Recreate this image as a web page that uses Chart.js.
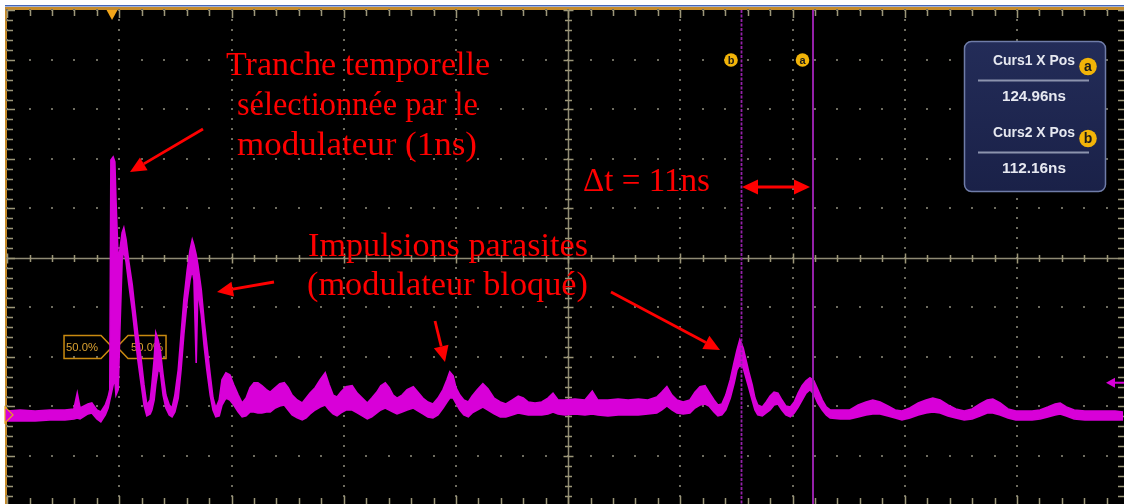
<!DOCTYPE html>
<html><head><meta charset="utf-8">
<script src="https://cdn.jsdelivr.net/npm/chart.js@4.4.1/dist/chart.umd.js"></script>
<style>html,body{margin:0;padding:0;background:#fff;overflow:hidden}canvas{display:block}</style>
</head><body>
<canvas id="c" width="1124" height="504"></canvas>
<script>
// ---- data (time in ns, amplitude in mV, 10 mV/div, 20 ns/div) ----
const timeNs = [
-18.7,-16.4,-13.7,-11.1,-8.4,-6.8,-6.2,-5.7,-4.3,-3.6,
-2.7,-2.0,-1.2,-0.7,-0.4,-0.2,0.2,0.5,0.7,1.1,
1.4,1.8,2.1,2.5,3.0,3.6,4.1,4.6,5.2,5.7,
6.2,6.8,7.1,7.5,7.8,8.2,8.6,9.1,9.6,10.2,
10.7,11.2,11.8,12.3,12.8,13.4,13.9,14.3,14.6,15.0,
15.3,15.9,16.4,16.9,17.5,18.0,18.5,19.1,19.6,20.3,
21.0,21.7,22.5,23.2,23.9,24.6,25.3,26.0,26.7,27.5,
28.2,29.1,29.9,30.7,31.4,32.1,33.0,33.9,34.6,35.3,
36.2,37.1,38.0,38.7,39.4,40.1,40.8,41.7,42.8,43.7,
44.6,45.5,46.3,47.2,47.9,48.7,49.4,50.1,50.8,51.7,
52.6,53.7,54.5,55.4,56.3,57.2,58.1,59.0,59.7,60.2,
60.8,61.3,62.0,62.7,63.5,64.2,65.1,66.1,67.0,68.1,
69.2,70.2,71.3,72.4,73.3,74.2,75.4,76.6,77.7,78.6,
79.5,80.7,82.5,84.3,85.6,86.6,88.4,90.2,92.0,93.8,
95.5,97.1,98.0,98.9,99.8,100.7,101.8,103.0,103.9,104.8,
105.7,106.4,107.3,108.0,108.7,109.4,110.2,110.9,111.4,111.9,
112.5,113.0,113.5,114.1,114.6,115.1,115.9,116.6,117.3,118.0,
118.7,119.4,120.1,120.9,121.6,122.3,123.0,123.7,124.4,125.1,
125.8,126.6,127.3,128.0,129.8,131.5,133.0,134.4,135.6,136.9,
138.3,139.6,140.8,142.2,143.7,145.1,146.3,147.6,149.0,150.4,
151.9,153.3,154.7,156.0,157.0,158.3,159.7,161.1,162.6,164.0,
165.4,166.8,168.1,169.0,170.1,171.5,173.4,175.2,177.0,178.8,180.2];
const traceHigh = [
0.8,1.0,0.8,1.0,1.0,1.2,4.4,1.4,2.2,2.4,
1.0,0.6,2.0,3.6,5.1,51.5,52.1,51.1,43.4,31.3,
33.3,36.8,37.8,35.4,30.9,26.3,21.2,16.2,11.1,6.1,
2.0,3.0,6.1,11.1,16.6,15.2,13.1,8.1,4.0,2.0,
1.4,4.0,9.1,16.2,23.2,29.3,33.3,35.4,34.3,32.3,
30.3,25.3,19.2,14.1,8.1,3.4,1.4,3.0,7.1,8.5,
8.1,6.1,4.0,2.4,3.4,5.5,6.5,6.5,5.9,5.1,
4.6,5.5,6.3,6.5,5.5,4.0,3.0,2.4,3.4,4.4,
5.5,7.1,8.5,6.1,4.0,3.6,4.6,5.7,5.9,4.4,
3.4,2.4,3.4,4.6,5.9,6.5,5.5,4.0,3.4,4.0,
5.1,5.7,4.6,3.4,2.6,2.2,3.4,5.1,7.1,8.7,
7.9,5.5,4.0,3.0,2.6,3.8,5.1,6.3,5.3,3.4,
2.6,2.2,3.0,3.8,3.4,2.6,2.4,2.6,3.4,4.4,
3.0,3.0,3.2,3.0,4.8,3.0,3.0,3.2,3.0,3.2,
3.0,3.6,4.6,5.7,4.0,3.0,2.6,3.0,4.6,5.7,
5.9,4.6,3.0,2.0,2.2,4.0,7.1,10.7,13.1,15.2,
13.5,11.1,8.7,6.1,3.4,2.0,1.6,2.6,3.8,4.6,
4.4,3.0,1.8,1.6,2.6,4.4,5.9,6.9,7.5,6.9,
5.1,3.0,1.6,1.0,1.0,1.0,2.0,2.6,3.0,2.6,
1.8,1.0,0.8,1.4,2.4,3.0,3.4,3.0,2.0,1.2,
0.8,1.2,2.2,3.0,3.2,2.4,1.2,0.8,0.8,0.8,
1.0,1.6,2.2,2.4,1.6,1.0,0.8,0.8,0.8,0.8,0.6];
const traceLow = [
-1.2,-1.2,-1.2,-1.0,-1.0,-0.8,-0.6,-0.8,0.2,0.4,
-0.8,-1.4,0,1.4,3.0,4.0,6.1,7.1,4.0,5.1,
17.2,31.3,33.3,30.9,26.3,21.2,16.2,11.1,6.1,2.0,
-0.2,0.2,1.0,3.0,6.1,9.1,8.7,4.0,1.4,0,
-0.4,0.6,3.4,9.1,16.2,23.2,27.3,29.3,27.3,10.5,
25.3,20.2,14.1,9.1,4.0,1.0,-0.4,-0.2,2.0,3.4,
3.0,2.0,0.6,-0.4,-0.2,0.6,0.6,0.4,0.4,0.6,
0.6,1.4,1.8,2.0,1.0,0,-0.6,-1.0,-0.6,0.2,
1.0,1.6,2.0,1.0,0.2,-0.2,0.4,1.0,1.0,0.4,
-0.2,-0.8,-0.4,0.4,1.0,1.4,1.0,0.6,0.2,0.6,
1.0,1.4,0.8,0.2,-0.4,-0.6,0,1.4,2.6,3.4,
3.4,2.4,1.0,0,-0.4,0.4,1.0,1.6,1.0,0.2,
-0.4,-0.4,0,0.4,0.2,0,0,0,0.2,0.6,
0.2,0,0.2,0,0.2,0,-0.2,0,0,0,
0.2,0.4,1.0,1.8,1.0,0.4,0.2,0.4,1.4,2.0,
2.2,1.8,0.6,-0.2,0,1.0,3.4,6.5,9.1,10.1,
9.5,7.5,5.5,3.0,1.0,0,-0.2,0.4,1.0,2.0,
2.2,1.0,0,-0.4,0.4,1.6,3.0,4.4,5.1,4.2,
2.4,1.0,0,-0.6,-0.8,-0.8,-0.4,0,0.2,0.2,
-0.2,-0.6,-1.0,-0.6,0,0.4,0.6,0.4,-0.2,-0.6,
-1.0,-0.8,-0.2,0.4,0.4,0,-0.6,-1.0,-1.0,-1.0,
-0.8,-0.4,0,0.2,-0.2,-0.8,-1.0,-1.0,-1.0,-1.0,-1.0];
const cursorNs = [124.96, 112.16];
const cursorNames = ['a', 'b'];
const readoutTitles = ['Curs1 X Pos', 'Curs2 X Pos'];
const readoutValues = ['124.96ns', '112.16ns'];
const triggerNs = 0;
const groundMv = 0;
const refLevelMv = 13.7;
const rightMarkerMv = 6.5;
const xRangeNs = [-18.9, 180.2];
const yRangeMv = [-18.0, 81.8];
const gridCenterNs = 81.3, gridCenterMv = 31.7;
const nsPerDiv = 20, mvPerDiv = 10;
const noteSlice = ['Tranche temporelle', 'sélectionnée par le', 'modulateur (1ns)'];
const noteDelta = 'Δt = 11ns';
const noteParasites = ['Impulsions parasites', '(modulateur bloqué)'];
const refLabel = '50.0%';

// ---- drawing helpers ----
const TRACE = '#d800d8';
const CURSOR = '#9420a8';
const ORANGE = '#e8a41c';
function fitText(ctx, txt, x1, x2, base, font) {
  ctx.font = font;
  const w = ctx.measureText(txt).width;
  ctx.save(); ctx.translate(x1, base); ctx.scale((x2 - x1) / w, 1);
  ctx.textAlign = 'left'; ctx.textBaseline = 'alphabetic';
  ctx.fillText(txt, 0, 0); ctx.restore();
}
function arrowHead(ctx, x1, y1, x2, y2, len, half) {
  const a = Math.atan2(y2 - y1, x2 - x1);
  const bx = x2 - len * Math.cos(a), by = y2 - len * Math.sin(a);
  ctx.beginPath(); ctx.moveTo(x2, y2);
  ctx.lineTo(bx + half * Math.sin(a), by - half * Math.cos(a));
  ctx.lineTo(bx - half * Math.sin(a), by + half * Math.cos(a));
  ctx.closePath(); ctx.fill();
  return [bx, by];
}
function arrow(ctx, x1, y1, x2, y2, both) {
  const len = 16, half = 7.5;
  let s = [x1, y1];
  if (both) s = arrowHead(ctx, x2, y2, x1, y1, len, half);
  const e = arrowHead(ctx, x1, y1, x2, y2, len, half);
  ctx.beginPath(); ctx.moveTo(s[0], s[1]); ctx.lineTo(e[0], e[1]); ctx.stroke();
}
function badge(ctx, cx, cy, r, letter) {
  ctx.beginPath(); ctx.arc(cx, cy, r, 0, Math.PI * 2);
  ctx.fillStyle = '#f2b408'; ctx.fill();
  ctx.fillStyle = '#1a1a1a';
  ctx.font = 'bold ' + Math.round(r * 1.6) + 'px "Liberation Sans", Arial, sans-serif';
  ctx.textAlign = 'center'; ctx.textBaseline = 'middle';
  ctx.fillText(letter, cx, cy + 0.5);
}
function roundRect(ctx, x, y, w, h, r) {
  ctx.beginPath();
  ctx.moveTo(x + r, y); ctx.lineTo(x + w - r, y); ctx.arcTo(x + w, y, x + w, y + r, r);
  ctx.lineTo(x + w, y + h - r); ctx.arcTo(x + w, y + h, x + w - r, y + h, r);
  ctx.lineTo(x + r, y + h); ctx.arcTo(x, y + h, x, y + h - r, r);
  ctx.lineTo(x, y + r); ctx.arcTo(x, y, x + r, y, r); ctx.closePath();
}

const scopePlugin = {
  id: 'scope',
  beforeDraw(chart) {
    const ctx = chart.ctx, ca = chart.chartArea;
    ctx.save();
    ctx.fillStyle = '#ffffff'; ctx.fillRect(0, 0, chart.width, chart.height);
    ctx.fillStyle = '#4466b8'; ctx.fillRect(ca.left - 1, ca.top - 5, chart.width, 1.5);
    ctx.fillStyle = '#c58a2a';
    ctx.fillRect(ca.left - 1, ca.top - 3, chart.width, 3);
    ctx.fillRect(ca.left - 1, ca.top - 3, 2, chart.height);
    ctx.fillStyle = '#000000'; ctx.fillRect(ca.left + 1, ca.top, chart.width, chart.height);
    ctx.restore();
  },
  beforeDatasetsDraw(chart) {
    const ctx = chart.ctx, ca = chart.chartArea;
    const xs = chart.scales.x, ys = chart.scales.y;
    const X = v => xs.getPixelForValue(v), Y = v => ys.getPixelForValue(v);
    ctx.save();
    const xMinor = [], yMinor = [];
    for (let k = -30; k <= 30; k++) { const v = gridCenterNs + k * nsPerDiv / 5; if (v >= xRangeNs[0] && v <= xRangeNs[1]) xMinor.push([v, k]); }
    for (let k = -30; k <= 30; k++) { const v = gridCenterMv + k * mvPerDiv / 5; if (v >= yRangeMv[0] && v <= yRangeMv[1]) yMinor.push([v, k]); }
    ctx.fillStyle = '#6e6c60';
    xMinor.forEach(([vx, kx]) => {
      if (kx % 5 !== 0 || kx === 0) return;
      const px = Math.round(X(vx));
      yMinor.forEach(([vy]) => ctx.fillRect(px - 1, Math.round(Y(vy)) - 1, 2, 2));
    });
    yMinor.forEach(([vy, ky]) => {
      if (ky % 5 !== 0 || ky === 0) return;
      const py = Math.round(Y(vy));
      xMinor.forEach(([vx]) => ctx.fillRect(Math.round(X(vx)) - 1, py - 1, 2, 2));
    });
    const cx = Math.round(X(gridCenterNs)) + 0.5, cy = Math.round(Y(gridCenterMv)) + 0.5;
    ctx.strokeStyle = '#8f8a74'; ctx.lineWidth = 1.5;
    ctx.beginPath(); ctx.moveTo(ca.left, cy); ctx.lineTo(ca.right + 2, cy);
    ctx.moveTo(cx, ca.top); ctx.lineTo(cx, ca.bottom); ctx.stroke();
    ctx.lineWidth = 1.5; ctx.strokeStyle = '#9c9678';
    ctx.beginPath();
    xMinor.forEach(([vx, kx]) => { const px = Math.round(X(vx)) + 0.5; const L = kx % 5 === 0 ? 5 : 3.5;
      ctx.moveTo(px, cy - L); ctx.lineTo(px, cy + L);
      ctx.moveTo(px, ca.top); ctx.lineTo(px, ca.top + (kx % 5 === 0 ? 8 : 6));
      ctx.moveTo(px, ca.bottom); ctx.lineTo(px, ca.bottom - (kx % 5 === 0 ? 8 : 6)); });
    yMinor.forEach(([vy, ky]) => { const py = Math.round(Y(vy)) + 0.5; const L = ky % 5 === 0 ? 5 : 3.5;
      ctx.moveTo(cx - L, py); ctx.lineTo(cx + L, py);
      ctx.moveTo(ca.left + 1, py); ctx.lineTo(ca.left + (ky % 5 === 0 ? 9 : 7), py);
      ctx.moveTo(ca.right + 1, py); ctx.lineTo(ca.right - 5, py); });
    ctx.stroke();
    const ry = Y(refLevelMv), tx = X(triggerNs);
    ctx.strokeStyle = '#c98a10'; ctx.lineWidth = 1.5;
    ctx.beginPath();
    ctx.moveTo(tx - 48, ry - 11.5); ctx.lineTo(tx - 11, ry - 11.5); ctx.lineTo(tx, ry);
    ctx.lineTo(tx - 11, ry + 11.5); ctx.lineTo(tx - 48, ry + 11.5); ctx.closePath();
    const t2 = tx + 5;
    ctx.moveTo(t2 + 49, ry - 11.5); ctx.lineTo(t2 + 11, ry - 11.5); ctx.lineTo(t2, ry);
    ctx.lineTo(t2 + 11, ry + 11.5); ctx.lineTo(t2 + 49, ry + 11.5); ctx.closePath();
    ctx.stroke();
    ctx.fillStyle = '#d9a030';
    fitText(ctx, refLabel, tx - 46, tx - 14, ry + 4, '11px "Liberation Sans", Arial, sans-serif');
    fitText(ctx, refLabel, t2 + 14, t2 + 46, ry + 4, '11px "Liberation Sans", Arial, sans-serif');
    ctx.restore();
  },
  afterDatasetsDraw(chart) {
    const ctx = chart.ctx, ca = chart.chartArea;
    const xs = chart.scales.x, ys = chart.scales.y;
    const X = v => xs.getPixelForValue(v), Y = v => ys.getPixelForValue(v);
    ctx.save();
    cursorNs.forEach((t, i) => {
      const px = Math.round(X(t)) + (i === 0 ? 0 : 0.5);
      ctx.strokeStyle = CURSOR; ctx.lineWidth = i === 0 ? 2 : 1.8;
      ctx.setLineDash(i === 0 ? [] : [3, 1.5]);
      ctx.beginPath(); ctx.moveTo(px, ca.top); ctx.lineTo(px, ca.bottom); ctx.stroke();
      ctx.setLineDash([]);
      badge(ctx, px - 10.5, Y(gridCenterMv + 4 * mvPerDiv), 6.8, cursorNames[i]);
    });
    const tx = X(triggerNs);
    ctx.fillStyle = '#f2a51a';
    ctx.beginPath(); ctx.moveTo(tx - 5.5, ca.top); ctx.lineTo(tx + 5.5, ca.top); ctx.lineTo(tx, ca.top + 10); ctx.closePath(); ctx.fill();
    const gy = Y(groundMv);
    ctx.fillStyle = TRACE; ctx.strokeStyle = ORANGE; ctx.lineWidth = 1.2;
    ctx.beginPath(); ctx.moveTo(ca.left - 1, gy - 8); ctx.lineTo(ca.left + 7, gy); ctx.lineTo(ca.left - 1, gy + 8); ctx.closePath(); ctx.fill(); ctx.stroke();
    const ly = Y(rightMarkerMv);
    ctx.fillStyle = TRACE; ctx.strokeStyle = TRACE; ctx.lineWidth = 2;
    ctx.beginPath(); ctx.moveTo(ca.right - 17, ly); ctx.lineTo(ca.right - 8, ly - 5); ctx.lineTo(ca.right - 8, ly + 5); ctx.closePath(); ctx.fill();
    ctx.beginPath(); ctx.moveTo(ca.right - 9, ly); ctx.lineTo(ca.right + 2, ly); ctx.stroke();
    const bx = 964.5, by = 41.5, bw = 141, bh = 150;
    roundRect(ctx, bx, by, bw, bh, 7);
    const g = ctx.createLinearGradient(0, by, 0, by + bh);
    g.addColorStop(0, '#232c58'); g.addColorStop(1, '#1a2148');
    ctx.fillStyle = g; ctx.fill();
    ctx.strokeStyle = '#6f7ca8'; ctx.lineWidth = 1.5; ctx.stroke();
    for (let i = 0; i < 2; i++) {
      const oy = by + i * 72;
      ctx.fillStyle = '#e6e8f0';
      fitText(ctx, readoutTitles[i], 993, 1075, oy + 23.5, 'bold 14px "Liberation Sans", Arial, sans-serif');
      fitText(ctx, readoutValues[i], 1002, 1066, oy + 59.5, 'bold 14px "Liberation Sans", Arial, sans-serif');
      ctx.fillStyle = '#8c93ad'; ctx.fillRect(978, oy + 38, 111, 2);
      badge(ctx, 1088, oy + 25, 8.8, cursorNames[i]);
    }
    ctx.restore();
  },
  afterDraw(chart) {
    const ctx = chart.ctx;
    ctx.save();
    ctx.fillStyle = '#ff0000'; ctx.strokeStyle = '#ff0000'; ctx.lineWidth = 2.8;
    const serif = '33px "Liberation Serif", "Times New Roman", serif';
    fitText(ctx, noteSlice[0], 226, 490, 75, serif);
    fitText(ctx, noteSlice[1], 237, 478, 115, serif);
    fitText(ctx, noteSlice[2], 237, 477, 155, serif);
    fitText(ctx, noteDelta, 583, 710, 191, serif);
    fitText(ctx, noteParasites[0], 308, 588, 256, serif);
    fitText(ctx, noteParasites[1], 307, 588, 295, serif);
    arrow(ctx, 203, 129, 130, 172);
    arrow(ctx, 274, 282, 217, 292);
    arrow(ctx, 435, 321, 445, 362);
    arrow(ctx, 611, 292, 720, 350);
    arrow(ctx, 742, 187, 810, 187, true);
    ctx.restore();
  }
};

const high = timeNs.map((t, i) => ({ x: t, y: traceHigh[i] }));
const low = timeNs.map((t, i) => ({ x: t, y: traceLow[i] }));

new Chart(document.getElementById('c'), {
  type: 'line',
  data: {
    datasets: [
      { data: high, borderColor: TRACE, backgroundColor: TRACE, borderWidth: 1.6, pointRadius: 0, fill: '+1', tension: 0 },
      { data: low, borderColor: TRACE, backgroundColor: TRACE, borderWidth: 1.6, pointRadius: 0, fill: false, tension: 0 }
    ]
  },
  options: {
    responsive: false, animation: false, devicePixelRatio: 1,
    layout: { padding: { left: 6, top: 10, right: 1, bottom: 0 } },
    plugins: { legend: { display: false }, tooltip: { enabled: false } },
    scales: {
      x: { type: 'linear', min: xRangeNs[0], max: xRangeNs[1], display: false },
      y: { type: 'linear', min: yRangeMv[0], max: yRangeMv[1], display: false }
    }
  },
  plugins: [scopePlugin]
});
</script>
</body></html>
